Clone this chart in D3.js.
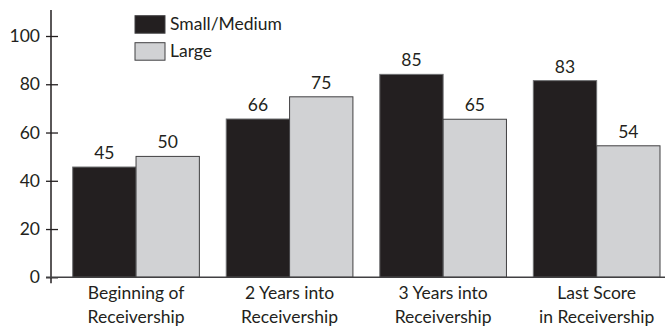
<!DOCTYPE html>
<html>
<head>
<meta charset="utf-8">
<script src="https://cdn.jsdelivr.net/npm/d3@7"></script>
<style>
    body { margin: 0; background: #fff; }
    svg text { font-family: Lato, "Open Sans", sans-serif; fill: #231f20; }
</style>
</head>
<body>
<div id="chart"></div>
<script>
// categories, two text lines each
var categories = ["Beginning of|Receivership", "2 Years into|Receivership", "3 Years into|Receivership", "Last Score|in Receivership"];
var seriesNames = ["Small/Medium", "Large"];
// bar heights as drawn in the picture
var smallMedium = [45.7, 65.6, 84.1, 81.5];
var large = [50.1, 74.8, 65.5, 54.5];
// printed value labels
var smallMediumLabels = ["45", "66", "85", "83"];
var largeLabels = ["50", "75", "65", "54"];
var yTicks = [0, 20, 40, 60, 80, 100];

var width = 665, height = 326;
var colors = ["#231f20", "#d1d2d4"];
var fontSize = "17.5px";

var svg = d3.select("#chart")
    .append("svg")
    .attr("width", width)
    .attr("height", height);

var yScale = d3.scaleLinear().domain([0, 100]).range([277.3, 36]);
var xScale = d3.scaleBand().domain(categories).range([72.7, 660]).paddingInner(0.175).paddingOuter(0);
var xSub = d3.scaleBand().domain([0, 1]).range([0, xScale.bandwidth()]);

var axisX = 51;

// bars
var rows = categories.map(function (c, i) {
    return [
        {cat: c, s: 0, v: smallMedium[i], label: smallMediumLabels[i]},
        {cat: c, s: 1, v: large[i], label: largeLabels[i]}
    ];
});

var groups = svg.append("g").selectAll("g")
    .data(rows)
    .join("g")
    .attr("transform", function (d) { return "translate(" + xScale(d[0].cat) + ",0)"; });

groups.selectAll("rect")
    .data(function (d) { return d; })
    .join("rect")
    .attr("x", function (d) { return xSub(d.s); })
    .attr("y", function (d) { return yScale(d.v); })
    .attr("width", xSub.bandwidth())
    .attr("height", function (d) { return yScale(0) - yScale(d.v); })
    .style("fill", function (d) { return colors[d.s]; })
    .style("stroke", function (d) { return d.s === 0 ? "#6d6e70" : "#414042"; })
    .style("stroke-width", 1);

groups.selectAll("text.val")
    .data(function (d) { return d; })
    .join("text")
    .attr("class", "val")
    .attr("x", function (d) { return xSub(d.s) + xSub.bandwidth() / 2; })
    .attr("y", function (d) { return yScale(d.v) - 8; })
    .attr("text-anchor", "middle")
    .style("font-size", fontSize)
    .text(function (d) { return d.label; });

// y axis
var yAxis = d3.axisLeft(yScale).tickValues(yTicks).tickSize(5).tickPadding(7);
var yG = svg.append("g")
    .attr("transform", "translate(" + axisX + ",0)")
    .call(yAxis);
yG.select(".domain").remove();
yG.selectAll(".tick line").attr("x1", -5).attr("x2", 7).style("stroke", "#231f20").style("stroke-width", 1.3);
yG.selectAll(".tick text").style("font-size", fontSize).style("font-family", "Lato, sans-serif").attr("fill", "#231f20").attr("x", -11);
yG.append("line")
    .attr("x1", 0).attr("x2", 0)
    .attr("y1", yScale(110.8)).attr("y2", yScale(0) + 6)
    .style("stroke", "#231f20").style("stroke-width", 1.5);

// x axis
var xAxis = d3.axisBottom(xScale).tickSize(0).tickPadding(0).tickFormat("");
var xG = svg.append("g")
    .attr("transform", "translate(0," + yScale(0) + ")")
    .call(xAxis);
xG.select(".domain").remove();
xG.append("line")
    .attr("x1", axisX - 5).attr("x2", width)
    .attr("y1", 0).attr("y2", 0)
    .style("stroke", "#414042").style("stroke-width", 1.5);
xG.selectAll(".tick").each(function (d) {
    var t = d3.select(this).append("text")
        .attr("text-anchor", "middle")
        .style("font-size", fontSize)
        .attr("fill", "#231f20");
    d.split("|").forEach(function (line, i) {
        t.append("tspan").attr("x", 0).attr("y", 21.5 + i * 24).text(line);
    });
});

// legend
var legend = svg.append("g").attr("transform", "translate(135,15.7)");
var li = legend.selectAll("g")
    .data(seriesNames)
    .join("g")
    .attr("transform", function (d, i) { return "translate(0," + (i * 27) + ")"; });
li.append("rect")
    .attr("width", 30).attr("height", 17.5)
    .style("fill", function (d, i) { return colors[i]; })
    .style("stroke", "#414042").style("stroke-width", 1);
li.append("text")
    .attr("x", 35).attr("y", 14.5)
    .style("font-size", fontSize)
    .text(function (d) { return d; });
</script>
</body>
</html>
